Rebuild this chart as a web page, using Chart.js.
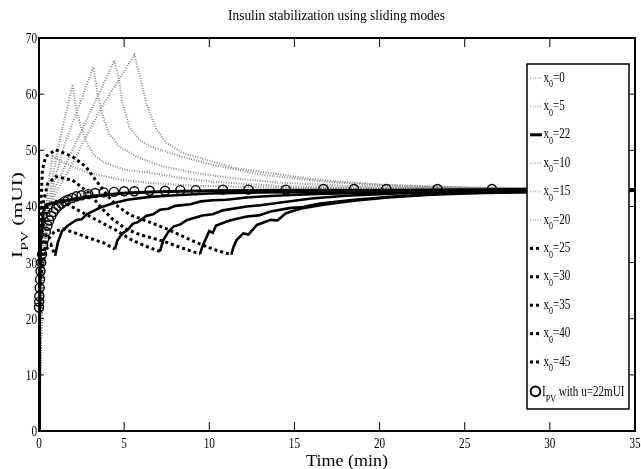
<!doctype html>
<html lang="en">
<head>
<meta charset="utf-8">
<title>Insulin stabilization using sliding modes</title>
<style>
  body { margin: 0; background: #fff; }
  canvas { display: block; }
</style>
</head>
<body>
<canvas id="myChart" width="641" height="469"></canvas>
<script src="https://cdn.jsdelivr.net/npm/chart.js"></script>
<script>
// axis ticks
var xTicks = [0, 5, 10, 15, 20, 25, 30, 35];
var yTicks = [0, 10, 20, 30, 40, 50, 60, 70];

// legend labels ( _ marks a subscript )
var labels = ['x_0=0', 'x_0=5', 'x_0=22', 'x_0=10', 'x_0=15', 'x_0=20',
              'x_0=25', 'x_0=30', 'x_0=35', 'x_0=40', 'x_0=45', 'I_PV with u=22mUI'];

// [time (min), I_PV (mUI)]
var x0_0 = [[0,0],[0.12,16],[0.3,30],[0.55,38],[0.9,41.8],[1.2,43.5],[2,47.8],[2.74,52.3],[3.7,57.8],[4.7,62.6],[5.6,67],
            [5.93,63.2],[6.3,58.4],[6.9,53.7],[7.5,51.3],[8.46,49.5],[9.85,48.3],[11.4,46.9],[13.4,46],[16.5,44.7],[20,43.9],[25,43.4],[30,43.2],[35,43.1]];
var x0_5 = [[0,0],[0.12,17],[0.3,31],[0.55,39],[0.9,43],[1.5,47],[2.5,53.5],[3.5,60],[4.42,66],
            [4.7,62.6],[4.9,58.4],[5.3,54.2],[5.9,51.9],[6.5,50.7],[7.9,49.3],[10.2,47.4],[13.2,45.6],[17.1,44.3],[21,43.7],[26,43.3],[35,43.1]];
var x0_10 = [[0,0],[0.12,17],[0.3,32],[0.55,40],[0.85,44],[1.5,51],[2.3,57.5],[3.19,64.8],
             [3.4,60.8],[3.7,56.6],[4.1,53],[4.7,50.7],[5.7,48.9],[7.3,47.1],[9.26,45.9],[11.2,45.1],[14.2,44.2],[18,43.7],[24,43.3],[35,43.1]];
var x0_15 = [[0,0],[0.12,18],[0.3,33],[0.55,41],[0.85,46],[1.3,53],[1.98,61.7],
             [2.15,57.8],[2.45,54.2],[2.9,50.7],[3.3,49],[3.9,47.7],[5.1,46.5],[6.5,46],[8,45.2],[10.2,44.4],[14.2,43.6],[20,43.3],[35,43.1]];
var x0_20 = [[0,0],[0.12,19],[0.3,35],[0.5,43],[0.8,48.9],[1.2,48.2],[1.95,47.1],[2.9,46],[4.9,44.7],[6.5,44.2],[9,43.7],[13,43.4],[20,43.2],[35,43.1]];
var x0_22 = [[0,0],[0.03,20],[0.1,34],[0.25,39],[0.4,40.3],[1,40.7],[2,41.3],[3,41.8],[4,42.1],[5.1,42.4],[7,42.6],[10,42.8],[15,42.9],[20,42.9],[28,43],[35,43]];

// sliding phase (dotted) then recovery (solid, chattering)
var x0_25s = [[0,25],[0.2,29.5],[0.45,32.5],[0.7,33.2],[0.95,31.2]];
var x0_25r = [[1.1,33.5],[1.35,35.6],[1.7,36.6],[2.2,37.6],[2.5,37.7],[2.8,38.6],[3.6,39.8],[4.4,40.6],[5.2,41.2],[6.5,41.7],[8,42],[10,42.3],[13,42.5],[17,42.6],[22,42.7],[28,42.8],[35,42.8]];
var x0_30s = [[0,27],[0.2,31],[0.5,34],[0.9,35.5],[1.4,36],[2.2,35.2],[2.9,34.4],[3.8,33.5],[4.46,32.4]];
var x0_30r = [[4.6,33.9],[4.75,34.6],[4.95,35.3],[5.2,35.8],[5.5,36.9],[5.8,37.2],[6.3,38.3],[6.7,38.6],[7.1,39.4],[7.6,39.6],[8,40.1],[8.9,40.4],
              [9.5,40.9],[10.2,41.1],[11,41.2],[12.2,41.6],[13.3,41.8],[14.5,42],[16,42.2],[17.5,42.3],[20,42.5],[23,42.6],[26,42.7],[30,42.8],[35,42.8]];
var x0_35s = [[0,29],[0.2,36],[0.5,40],[0.9,41],[1.6,40.5],[2.5,39],[3.5,37.4],[4.5,35.8],[5.34,34.2],[6.2,33],[7.1,32]];
var x0_35r = [[7.3,34],[7.6,35.5],[7.9,36.4],[8.3,36.8],[8.7,37.6],[9.6,38.4],[10.2,38.6],[10.8,39.3],[12.2,40],[13,40.2],[14.2,40.7],[16,41.4],
              [18,41.9],[21,42.3],[25,42.6],[30,42.8],[35,42.8]];
var x0_40s = [[0,31],[0.2,40],[0.5,44],[0.98,45.3],[1.96,44.7],[2.94,42.4],[3.7,39.6],[4.3,37.8],[5.1,36],[5.9,35],[7.3,33.8],[8.4,32.6],[9.45,31.5]];
var x0_40r = [[9.6,32.9],[9.85,34.6],[10,35.6],[10.2,35.3],[10.4,36.6],[11.2,37.5],[12.2,38.2],[12.9,38.4],[13.6,39.1],[14.7,39.7],[15.5,39.9],
              [16.5,40.5],[18.5,41.2],[21,41.8],[24,42.3],[28,42.6],[35,42.8]];
var x0_45s = [[0,33],[0.2,46.5],[0.39,48.9],[0.98,50.1],[1.96,48.9],[2.74,47.1],[3.33,44.7],[3.9,42.4],[4.5,40.3],[5.34,38.5],[6.5,37.2],
              [7.5,36],[8.5,34.6],[9.3,33.5],[10.3,32.3],[11.3,31.4]];
var x0_45r = [[11.4,32.6],[11.6,34],[12,35.2],[12.3,35],[12.8,36.7],[13.6,37.6],[14,37.5],[14.5,38.8],[15.5,39.7],[16.7,40.3],[18.5,41],
              [20.5,41.6],[23,42.1],[26,42.4],[30,42.6],[35,42.8]];

// open-loop I_PV with u = 22 mUI (markers only)
var ipv = [[0,22],[0.01,23],[0.02,24],[0.04,25.5],[0.06,27],[0.09,28.5],[0.13,30],[0.18,31.5],[0.24,33],[0.31,34.3],[0.4,35.5],[0.5,36.6],
           [0.6,37.5],[0.72,38.3],[0.85,39],[1,39.6],[1.15,40.1],[1.32,40.5],[1.5,40.9],[1.7,41.2],[1.95,41.5],[2.2,41.8],[2.5,42],[2.9,42.2],
           [3.3,42.4],[3.8,42.5],[4.4,42.6],[5,42.7],[5.6,42.7],[6.5,42.8],[7.4,42.8],[8.3,42.9],[9.2,42.9],[10.8,43],[12.3,43],[14.5,43],
           [16.7,43.1],[18.5,43.1],[20.4,43.1],[23.4,43.1],[26.6,43.1],[30,43.1],[33.5,43.1]];

function xy(a) { return a.map(function (p) { return {x: p[0], y: p[1]}; }); }

function grayLine(label, pts) {
  return {label: label, data: xy(pts), borderColor: '#8c8c8c', borderWidth: 2, borderDash: [1, 1.5], order: 3};
}
function slideLine(label, s, r) {
  var n = s.length - 1;
  return {label: label, data: xy(s.concat(r)), borderColor: '#000', borderWidth: 3, borderDash: [3, 3], order: 2,
    segment: {
      borderDash: function (c) { return c.p0DataIndex >= n ? [] : undefined; },
      borderWidth: function (c) { return c.p0DataIndex >= n ? 2.6 : undefined; }
    }};
}

var datasets = [
  grayLine(labels[0], x0_0),
  grayLine(labels[1], x0_5),
  {label: labels[2], data: xy(x0_22), borderColor: '#000', borderWidth: 3, order: 1},
  grayLine(labels[3], x0_10),
  grayLine(labels[4], x0_15),
  grayLine(labels[5], x0_20),
  slideLine(labels[6], x0_25s, x0_25r),
  slideLine(labels[7], x0_30s, x0_30r),
  slideLine(labels[8], x0_35s, x0_35r),
  slideLine(labels[9], x0_40s, x0_40r),
  slideLine(labels[10], x0_45s, x0_45r),
  {label: labels[11], data: xy(ipv), showLine: false, pointRadius: 4.5, pointStyle: 'circle',
   pointBorderColor: '#000', pointBackgroundColor: 'rgba(0,0,0,0)', pointBorderWidth: 1.4, order: 0, clip: 8}
];

// text with optional subscript and horizontal squeeze
function drawRich(c, label, x, y, size, sx, align, fit) {
  var m = label.match(/^([^_]*)_([A-Za-z0-9]+)(.*)$/);
  var parts = m ? [[m[1], 0], [m[2], 1], [m[3], 0]] : [[label, 0]];
  var font = function (s) { return s + 'px "Liberation Serif", "Times New Roman", serif'; };
  var w = 0;
  parts.forEach(function (p) {
    c.font = font(p[1] ? size * 0.72 : size);
    p.push(c.measureText(p[0]).width);
    w += p[2];
  });
  if (fit) sx = fit / w;
  c.save();
  c.translate(x, y);
  c.scale(sx, 1);
  c.textAlign = 'left';
  c.textBaseline = 'alphabetic';
  c.fillStyle = '#000';
  var cx = align === 'center' ? -w / 2 : (align === 'right' ? -w : 0);
  parts.forEach(function (p) {
    c.font = font(p[1] ? size * 0.72 : size);
    c.fillText(p[0], cx, p[1] ? size * 0.38 : 0);
    cx += p[2];
  });
  c.restore();
}

var framePlugin = {
  id: 'frame',
  afterDraw: function (chart) {
    var c = chart.ctx, a = chart.chartArea, sx = chart.scales.x, sy = chart.scales.y;
    c.save();
    // inward ticks
    c.strokeStyle = '#000';
    c.lineWidth = 1;
    c.beginPath();
    sx.ticks.forEach(function (t) {
      var px = sx.getPixelForValue(t.value);
      c.moveTo(px, a.bottom); c.lineTo(px, a.bottom - 9);
      c.moveTo(px, a.top); c.lineTo(px, a.top + 9);
    });
    sy.ticks.forEach(function (t) {
      var py = sy.getPixelForValue(t.value);
      c.moveTo(a.left, py); c.lineTo(a.left + 5, py);
      c.moveTo(a.right, py); c.lineTo(a.right - 5, py);
    });
    c.stroke();
    c.lineWidth = 2;
    c.strokeRect(a.left, a.top, a.right - a.left, a.bottom - a.top);

    // tick labels
    sx.ticks.forEach(function (t) {
      drawRich(c, String(t.value), sx.getPixelForValue(t.value), 447.5, 15, 0.75, 'center');
    });
    sy.ticks.forEach(function (t) {
      drawRich(c, String(t.value), 37, sy.getPixelForValue(t.value) + 5, 15, 0.75, 'right');
    });

    // titles
    drawRich(c, 'Insulin stabilization using sliding modes', 336.5, 20, 14, 1, 'center', 217);
    drawRich(c, 'Time (min)', 347, 466, 17, 1, 'center', 82);
    c.save();
    c.translate(22, 215);
    c.rotate(-Math.PI / 2);
    drawRich(c, 'I_PV (mUI)', 0, 0, 15, 1, 'center', 86);
    c.restore();

    // legend box
    var lx = 527, ly = 64, lw = 102, lh = 345;
    c.fillStyle = '#fff';
    c.fillRect(lx, ly, lw, lh);
    c.lineWidth = 1.5;
    c.strokeStyle = '#000';
    c.strokeRect(lx, ly, lw, lh);
    chart.data.datasets.forEach(function (ds, i) {
      var y = 78 + 28.4 * i;
      c.save();
      if (ds.showLine === false) {
        c.lineWidth = 2;
        c.beginPath();
        c.arc(535.5, y + 1, 4.8, 0, Math.PI * 2);
        c.stroke();
        c.restore();
        drawRich(c, ds.label, 542, y + 5.5, 15, 0.74, 'left');
        return;
      }
      c.strokeStyle = ds.borderColor === '#8c8c8c' ? '#bdbdbd' : ds.borderColor;
      c.lineWidth = ds.borderWidth;
      c.setLineDash(ds.borderDash || []);
      c.beginPath();
      c.moveTo(530, y);
      c.lineTo(542, y);
      c.stroke();
      c.restore();
      drawRich(c, ds.label, 543.5, y + 3.5, 15, 0.74, 'left');
    });
    c.restore();
  }
};

var ctx = document.getElementById('myChart').getContext('2d');
var chart = new Chart(ctx, {
  type: 'line',
  data: {datasets: datasets},
  options: {
    responsive: false,
    animation: false,
    layout: {padding: {left: 39, right: 6, top: 38, bottom: 38}},
    elements: {point: {radius: 0}, line: {tension: 0}},
    scales: {
      x: {type: 'linear', min: 0, max: 35,
          afterBuildTicks: function (s) { s.ticks = xTicks.map(function (v) { return {value: v}; }); },
          ticks: {display: false}, grid: {display: false}, border: {display: false},
          afterFit: function (s) { s.height = 0; }},
      y: {type: 'linear', min: 0, max: 70,
          afterBuildTicks: function (s) { s.ticks = yTicks.map(function (v) { return {value: v}; }); },
          ticks: {display: false}, grid: {display: false}, border: {display: false},
          afterFit: function (s) { s.width = 0; }}
    },
    plugins: {legend: {display: false}, tooltip: {enabled: false}, title: {display: false}}
  },
  plugins: [framePlugin]
});
</script>
</body>
</html>
